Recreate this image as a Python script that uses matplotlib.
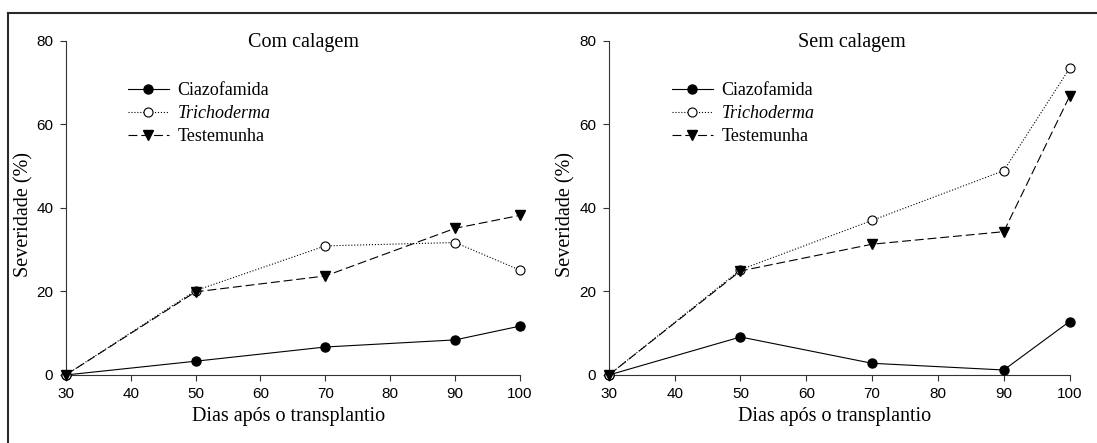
import matplotlib

matplotlib.use("Agg")
import matplotlib.pyplot as plt
from matplotlib.lines import Line2D

plt.rcParams["font.family"] = ["Liberation Serif", "DejaVu Serif"]

dias = [30, 50, 70, 90, 100]

# Com calagem
com_ciazofamida = [0, 3.3, 6.7, 8.4, 11.7]
com_trichoderma = [0, 20.2, 30.9, 31.7, 25.1]
com_testemunha = [0, 19.9, 23.7, 35.1, 38.2]

# Sem calagem
sem_ciazofamida = [0, 9.1, 2.8, 1.2, 12.8]
sem_trichoderma = [0, 25.2, 37.0, 48.9, 73.4]
sem_testemunha = [0, 24.9, 31.3, 34.3, 66.7]

x_ticks = [30, 40, 50, 60, 70, 80, 90, 100]
y_ticks = [0, 20, 40, 60, 80]
labels = ["Ciazofamida", "Trichoderma", "Testemunha"]

W, H = 1097, 443
fig = plt.figure(figsize=(W / 100, H / 100), dpi=100)

panels = [
    ("Com calagem", [0.060, 0.1535, 0.414, 0.7546], 0.523,
     com_ciazofamida, com_trichoderma, com_testemunha),
    ("Sem calagem", [0.555, 0.1535, 0.420, 0.7546], 0.527,
     sem_ciazofamida, sem_trichoderma, sem_testemunha),
]

for title, rect, title_x, cia, tri, tes in panels:
    ax = fig.add_axes(rect)
    ax.plot(dias, cia, color="black", lw=0.8, marker="o", ms=6.5,
            mfc="black", mec="black", clip_on=False, zorder=3)
    ax.plot(dias, tri, color="black", lw=0.8, ls=":", marker="o", ms=6.5,
            mfc="white", mec="black", mew=0.8, clip_on=False, zorder=4)
    ax.plot(dias, tes, color="black", lw=0.8, dashes=(8, 3.5), marker="v",
            ms=6.5, mfc="black", mec="black", clip_on=False, zorder=5)

    ax.set_xlim(30, 100)
    ax.set_ylim(0, 80)
    ax.set_xticks(x_ticks)
    ax.set_yticks(y_ticks)
    for side in ("top", "right"):
        ax.spines[side].set_visible(False)
    for side in ("left", "bottom"):
        ax.spines[side].set_linewidth(0.8)
        ax.spines[side].set_color("#333333")
    ax.tick_params(direction="out", length=4, width=0.8, color="#333333",
                   labelsize=11, pad=5, labelfontfamily="Liberation Sans")

    ax.set_xlabel("Dias após o transplantio", fontsize=14.5)
    ax.xaxis.set_label_coords(0.49, -0.095)
    ax.set_ylabel("Severidade (%)", fontsize=14.5)
    ax.yaxis.set_label_coords(-0.072, 0.48)
    ax.text(title_x, 0.995, title, transform=ax.transAxes, fontsize=14.5,
            ha="center", va="center")

    handles = [
        Line2D([], [], color="black", lw=0.8, marker="o", ms=6.5, mfc="black"),
        Line2D([], [], color="black", lw=0.8, ls=":", marker="o", ms=6.5,
               mfc="white", mew=0.8),
        Line2D([], [], color="black", lw=0.8, dashes=(8, 3.5), marker="v",
               ms=6.5, mfc="black"),
    ]
    leg = ax.legend(handles, labels, loc="upper left",
                    bbox_to_anchor=(0.137, 0.875), frameon=False, fontsize=13,
                    handlelength=2.25, handletextpad=0.5, labelspacing=0.32,
                    borderpad=0, borderaxespad=0, numpoints=1)
    leg.get_texts()[1].set_fontstyle("italic")

# outer frame (top and left edges)
fig.add_artist(Line2D([8.3 / W, 8.3 / W], [0, 1 - 12.7 / H],
                      transform=fig.transFigure, color="#2a2a2a", lw=1.5))
fig.add_artist(Line2D([8.3 / W, 1], [1 - 12.7 / H, 1 - 12.7 / H],
                      transform=fig.transFigure, color="#2a2a2a", lw=1.5))

fig.savefig("out.png", dpi=100)
